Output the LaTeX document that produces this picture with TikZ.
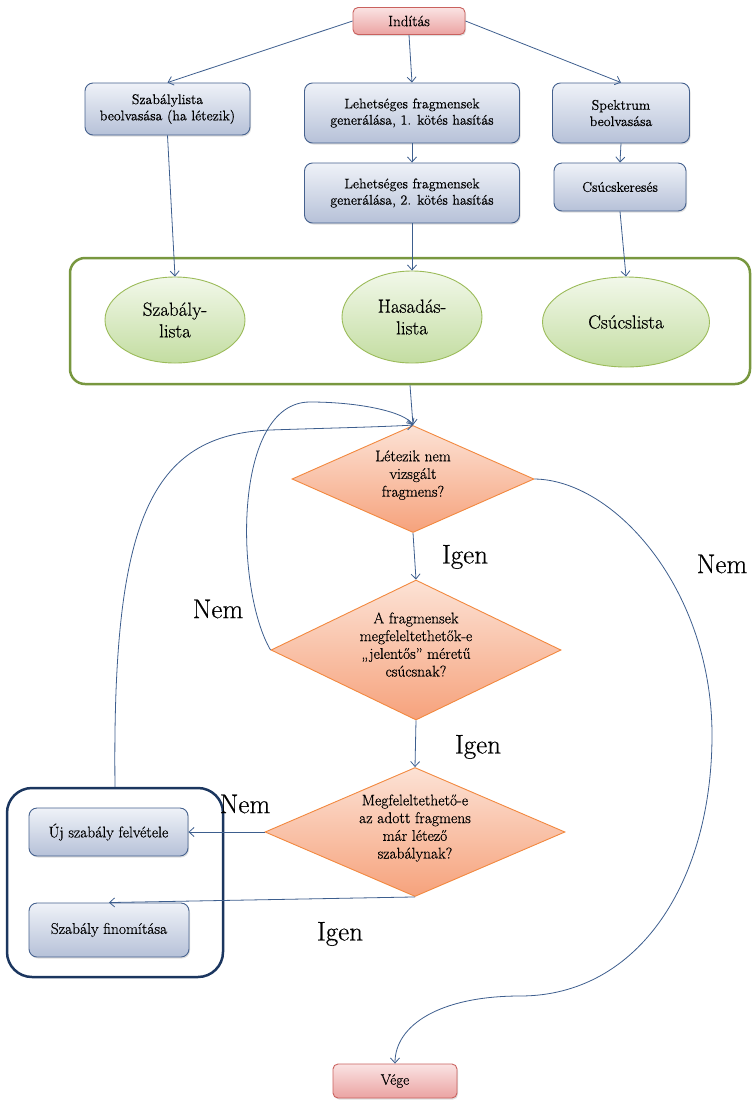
\documentclass[tikz,border=0pt]{standalone}
\usepackage{fontspec}
\setmainfont{Latin Modern Roman}[FakeBold=0.5]
\usetikzlibrary{shapes.geometric,arrows.meta,shadows}
\definecolor{linec}{HTML}{3D5E8E}
\definecolor{pinktop}{HTML}{FAE3E3}
\definecolor{pinkbot}{HTML}{EBA3A2}
\definecolor{pinkbd}{HTML}{C9615E}
\definecolor{bluetop}{HTML}{EFF2F8}
\definecolor{bluebot}{HTML}{B6C1D8}
\definecolor{bluebd}{HTML}{45618E}
\definecolor{elltop}{HTML}{F2F8EA}
\definecolor{ellbot}{HTML}{C3DDA1}
\definecolor{ellbd}{HTML}{9BBB59}
\definecolor{diatop}{HTML}{FCE2D5}
\definecolor{diabot}{HTML}{F6A27C}
\definecolor{diabd}{HTML}{F2883E}
\definecolor{grnbd}{HTML}{78973F}
\definecolor{navybd}{HTML}{1B365F}
\newcommand\dtxt[1]{\smash{\makebox[0pt]{\begin{tabular}{@{}c@{}}#1\end{tabular}}}}
\begin{document}
\begin{tikzpicture}[x=1pt,y=-1pt,
  conn/.style={draw=linec, line width=0.8pt, -{Straight Barb[length=5pt,width=9pt]}},
  termbox/.style={rectangle, rounded corners=5pt, draw=pinkbd, line width=0.9pt,
    top color=pinktop, bottom color=pinkbot, inner sep=0pt,
    font=\fontsize{15}{17}\selectfont,
    drop shadow={shadow xshift=1pt, shadow yshift=-1.5pt, opacity=0.25}},
  procbox/.style={rectangle, rounded corners=8pt, draw=bluebd, line width=0.9pt,
    top color=bluetop, bottom color=bluebot, inner sep=0pt, align=center,
    font=\fontsize{14}{16.3}\selectfont,
    drop shadow={shadow xshift=1pt, shadow yshift=-1.5pt, opacity=0.25}},
  lowbox/.style={procbox, font=\fontsize{15.5}{18}\selectfont},
  listell/.style={ellipse, draw=ellbd, line width=0.9pt, top color=elltop,
    bottom color=ellbot, inner sep=0pt, align=center,
    font=\fontsize{19}{21.7}\selectfont},
  decis/.style={diamond, draw=diabd, line width=0.9pt, top color=diatop,
    bottom color=diabot, inner sep=0pt,
    font=\fontsize{15.5}{17.7}\selectfont},
  biglabel/.style={font=\fontsize{27}{30}\selectfont, inner sep=0pt}
]
\useasboundingbox (0,0) rectangle (754,1104);

% top row
\node[termbox, minimum width=112pt, minimum height=27pt] (start) at (409,21) {Indítás};
\node[procbox, minimum width=165pt, minimum height=52pt] (szl) at (167.5,109)
  {Szabálylista\\beolvasása (ha létezik)};
\node[procbox, minimum width=215pt, minimum height=60pt] (leh1) at (412,113)
  {Lehetséges fragmensek\\generálása, 1. kötés hasítás};
\node[procbox, minimum width=215pt, minimum height=60pt] (leh2) at (412,193)
  {Lehetséges fragmensek\\generálása, 2. kötés hasítás};
\node[procbox, minimum width=137pt, minimum height=60pt] (spek) at (621,113)
  {Spektrum\\beolvasása};
\node[procbox, minimum width=132pt, minimum height=48pt] (csk) at (620,187)
  {Csúcskeresés};

% green group
\node[draw=grnbd, line width=2.5pt, rounded corners=15pt, minimum width=680pt,
  minimum height=126pt, inner sep=0pt] (gbox) at (410,321) {};
\node[listell, minimum width=140pt, minimum height=86pt] (e1) at (175,320) {Szabály-\\lista};
\node[listell, minimum width=140pt, minimum height=92pt] (e2) at (412,317) {Hasadás-\\lista};
\node[listell, minimum width=167pt, minimum height=90pt] (e3) at (626,322) {Csúcslista};

% decisions
\node[decis, minimum width=242pt, minimum height=107pt] (d1) at (413,479)
  {\dtxt{Létezik nem\\vizsgált\\fragmens?}};
\node[decis, minimum width=290pt, minimum height=140pt] (d2) at (416,650)
  {\dtxt{A fragmensek\\megfeleltethetők-e\\„jelentős” méretű\\csúcsnak?}};
\node[decis, minimum width=300pt, minimum height=129pt] (d3) at (415,832)
  {\dtxt{Megfeleltethető-e\\az adott fragmens\\már létező\\szabálynak?}};

% rule group
\node[draw=navybd, line width=2.5pt, rounded corners=25pt, minimum width=216pt,
  minimum height=189pt, inner sep=0pt] (grp) at (115,882.5) {};
\node[lowbox, minimum width=159pt, minimum height=48pt] (uj) at (108.5,832) {Új szabály felvétele};
\node[lowbox, minimum width=160pt, minimum height=54pt] (fin) at (109,930) {Szabály finomítása};

\node[termbox, minimum width=124pt, minimum height=34pt] (vege) at (395,1081) {Vége};

% labels
\node[biglabel] (ig1) at (465,557) {Igen};
\node[biglabel] (ig2) at (478,747) {Igen};
\node[biglabel] (ig3) at (340,934) {Igen};
\node[biglabel] (nm1) at (218,609) {Nem};
\node[biglabel] (nm2) at (245,804) {Nem};
\node[biglabel] (nm3) at (722,564) {Nem};

% connectors
\draw[conn] (start.west) -- (szl.north);
\draw[conn] (start.south) -- (leh1.north);
\draw[conn] (start.east) -- (spek.north);
\draw[conn] (leh1.south) -- (leh2.north);
\draw[conn] (spek.south) -- (csk.north);
\draw[conn] (szl.south) -- (e1.north);
\draw[conn] (leh2.south) -- (e2.north);
\draw[conn] (csk.south) -- (e3.north);
\draw[conn] (gbox.south) -- (d1.north);
\draw[conn] (d1.south) -- (d2.north);
\draw[conn] (d2.south) -- (d3.north);
\draw[conn] (d3.west) -- (uj.east);
\draw[conn] (d3.south) -- (fin.north);
\draw[conn] (d2.west) .. controls (235,590) and (232,402) .. (310,402)
  .. controls (360,402) and (405,412) .. (d1.north);
\draw[conn] (grp.north) .. controls (112,520) and (150,435) .. (270,430)
  .. controls (330,428) and (380,427) .. (d1.north);
\draw[conn] (d1.east) .. controls (615,480) and (712,590) .. (712,735)
  .. controls (712,880) and (640,996) .. (520,996)
  .. controls (440,996) and (395,1025) .. (vege.north);
\end{tikzpicture}
\end{document}
